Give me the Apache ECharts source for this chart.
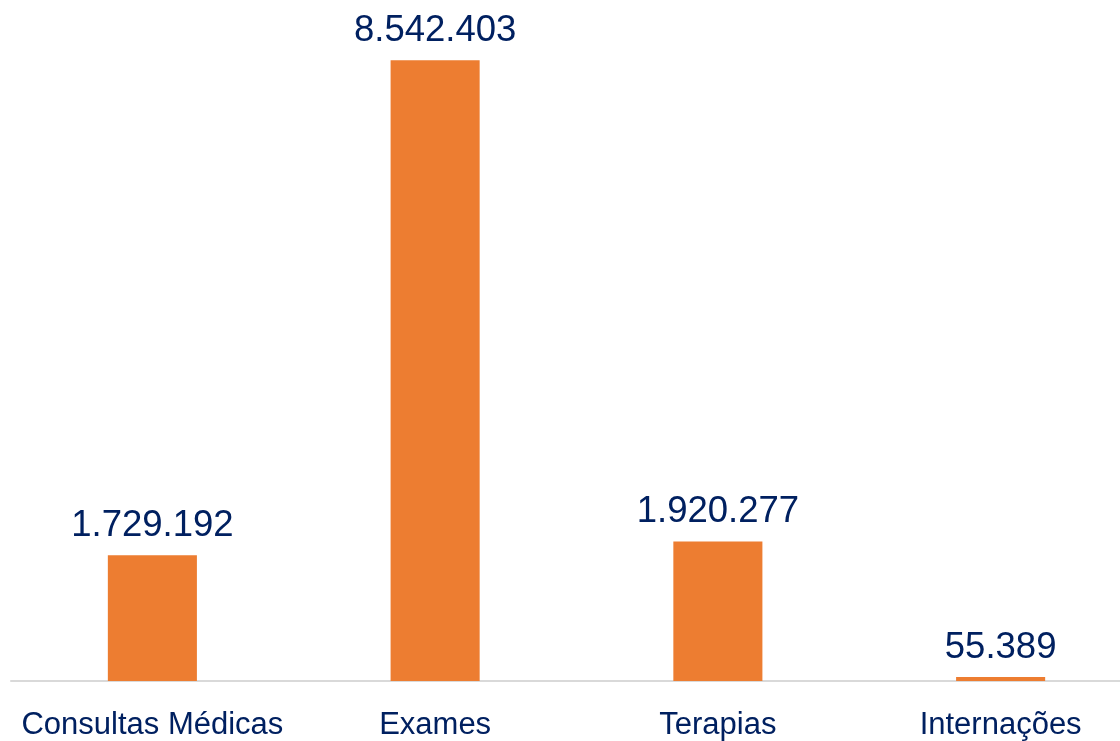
<!DOCTYPE html>
<html>
<head>
<meta charset="utf-8">
<script src="https://cdn.jsdelivr.net/npm/echarts@6/dist/echarts.min.js"></script>
<style>html,body{margin:0;padding:0;background:#fff;overflow:hidden;width:1120px;height:741px}#c{width:1142px;height:741px}</style>
</head>
<body>
<div id="c"></div>
<script>
const categories = ['Consultas Médicas', 'Exames', 'Terapias', 'Internações'];
const values = [1729192, 8542403, 1920277, 55389];

function fmt(v) {
  return String(v).replace(/\B(?=(\d{3})+(?!\d))/g, '.');
}

const chart = echarts.init(document.getElementById('c'));
chart.setOption({
  animation: false,
  grid: { left: 11, right: 0, top: 27, bottom: 60, containLabel: false },
  xAxis: {
    type: 'category',
    data: categories,
    axisLine: { lineStyle: { color: '#D9D9D9', width: 2 } },
    axisTick: { show: false },
    axisLabel: { color: '#002060', fontSize: 31, fontFamily: 'Liberation Sans, Arial, sans-serif', margin: 29, interval: 0 }
  },
  yAxis: {
    type: 'value', min: 0, max: 9000000,
    show: false,
    splitLine: { show: false }
  },
  series: [{
    type: 'bar',
    data: values,
    barWidth: '31.5%',
    itemStyle: { color: '#ED7D31' },
    label: {
      show: true, position: 'top', distance: 11,
      color: '#002060', fontSize: 36.5, fontFamily: 'Liberation Sans, Arial, sans-serif',
      formatter: p => fmt(p.value)
    }
  }]
});
</script>
</body>
</html>
